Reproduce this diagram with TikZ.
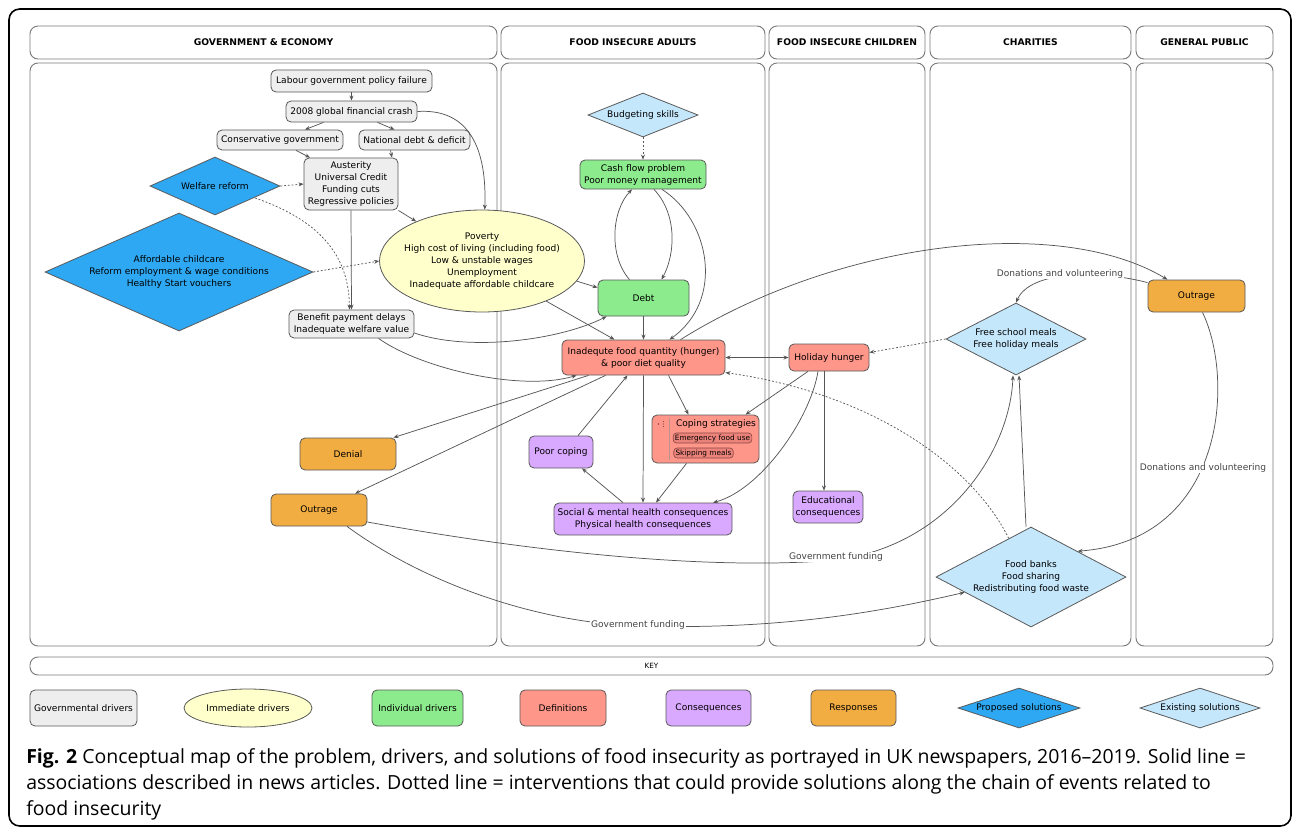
\documentclass[tikz,border=0pt]{standalone}
\usepackage{fontspec}
\setmainfont{DejaVu Sans}
\newfontfamily\capfont{Open Sans}
\usetikzlibrary{shapes.geometric,arrows.meta,calc}
\definecolor{bordc}{HTML}{5A5A5A}
\definecolor{panelc}{HTML}{7A7A7A}
\definecolor{edgec}{HTML}{555555}
\definecolor{labc}{HTML}{444444}
\definecolor{govc}{HTML}{EEEEEE}
\definecolor{immc}{HTML}{FFFFCC}
\definecolor{indc}{HTML}{8CEB8C}
\definecolor{defc}{HTML}{FF968A}
\definecolor{csqc}{HTML}{D9A8FF}
\definecolor{respc}{HTML}{F2AD42}
\definecolor{propc}{HTML}{2EA8F2}
\definecolor{exic}{HTML}{C5E7FC}
\definecolor{pillc}{HTML}{EC837A}
\definecolor{pillb}{HTML}{8B4A45}
\begin{document}
\begin{tikzpicture}[x=0.75pt,y=-0.75pt,
  every node/.style={font=\fontsize{6.8}{9}\selectfont},
  sz/.style 2 args={minimum width={#1*0.75pt}, minimum height={#2*0.75pt}},
  box/.style={draw=bordc, line width=0.6pt, rounded corners=3.8pt, align=center, inner sep=1pt},
  gov/.style={box, fill=govc},
  ind/.style={box, fill=indc},
  defn/.style={box, fill=defc},
  csq/.style={box, fill=csqc},
  resp/.style={box, fill=respc},
  imm/.style={ellipse, draw=bordc, line width=0.6pt, fill=immc, align=center, inner sep=0pt},
  prop/.style={diamond, draw=bordc, line width=0.6pt, fill=propc, align=center, inner sep=0pt},
  exist/.style={diamond, draw=bordc, line width=0.6pt, fill=exic, align=center, inner sep=0pt},
  panel/.style={draw=panelc, line width=0.7pt, rounded corners=6pt, inner sep=0pt},
  hdr/.style={panel, font=\fontsize{6.9}{9}\selectfont\bfseries},
  pill/.style={draw=pillb, fill=pillc, line width=0.5pt, rounded corners=2.5pt, inner xsep=1.3pt, inner ysep=1.1pt, font=\fontsize{5.5}{6}\selectfont},
  arr/.style={draw=edgec, line width=0.55pt, -{Stealth[length=3.8pt,width=3pt]}},
  arrboth/.style={draw=edgec, line width=0.55pt, {Stealth[length=3.8pt,width=3pt]}-{Stealth[length=3.8pt,width=3pt]}},
  dot/.style={arr, dash pattern=on 1.4pt off 1.4pt},
  lbl/.style={fill=white, inner sep=0.8pt, text=labc},
  captxt/.style={anchor=base west, inner sep=0pt, font=\capfont\fontsize{14.6}{15}\selectfont}
]
\fill[white] (0,0) rectangle (1292,829);
\useasboundingbox (0,0) rectangle (1292,829);
\draw[line width=1.2pt, rounded corners=8pt] (9,9) rectangle (1291,826);

% headers
\node[hdr, sz={467}{33}] (hGov) at (263.5,42.5) {GOVERNMENT \& ECONOMY};
\node[hdr, sz={264}{33}] (hAd) at (633,42.5) {FOOD INSECURE ADULTS};
\node[hdr, sz={156}{33}] (hCh) at (847,42.5) {FOOD INSECURE CHILDREN};
\node[hdr, sz={201}{33}] (hCy) at (1030.5,42.5) {CHARITIES};
\node[hdr, sz={137}{33}] (hPu) at (1204.5,42.5) {GENERAL PUBLIC};
% panels
\node[panel, sz={467}{583}] (pGov) at (263.5,354.5) {};
\node[panel, sz={264}{583}] (pAd) at (633,354.5) {};
\node[panel, sz={156}{583}] (pCh) at (847,354.5) {};
\node[panel, sz={201}{583}] (pCy) at (1030.5,354.5) {};
\node[panel, sz={137}{583}] (pPu) at (1204.5,354.5) {};
\node[panel, sz={1243}{18}, font=\fontsize{5.4}{6}\selectfont] (keybar) at (651.5,666) {KEY};

% key
\node[gov, sz={107}{36}] (k1) at (83.5,708) {Governmental drivers};
\node[imm, sz={128}{38}] (k2) at (248,708) {Immediate drivers};
\node[ind, sz={91}{36}] (k3) at (417.5,708) {Individual drivers};
\node[defn, sz={86}{36}] (k4) at (563,708) {Definitions};
\node[csq, sz={85}{36}] (k5) at (708.5,708) {Consequences};
\node[resp, sz={85}{36}] (k6) at (853.5,708) {Responses};
\node[prop, sz={122}{40}, shape aspect=3] (k7) at (1019,708) {Proposed solutions};
\node[exist, sz={120}{40}, shape aspect=3] (k8) at (1200,708) {Existing solutions};

% government nodes
\node[gov, sz={161}{22}] (lab) at (351.5,81) {Labour government policy failure};
\node[gov, sz={131}{21}] (crash) at (351.5,111.5) {2008 global financial crash};
\node[gov, sz={126}{20}] (cons) at (280,140) {Conservative government};
\node[gov, sz={111}{20}] (natdebt) at (414.5,140) {National debt \& deficit};
\node[gov, sz={94}{52}] (aust) at (351,184) {Austerity\\Universal Credit\\Funding cuts\\Regressive policies};
\node[prop, sz={130}{58}, shape aspect=2.24] (welfare) at (215,186) {Welfare reform};
\node[prop, sz={268}{118}, shape aspect=2.27] (afford) at (179,272) {Affordable childcare\\Reform employment \& wage conditions\\Healthy Start vouchers};
\node[gov, sz={125}{28}] (benefit) at (351.5,324) {Benefit payment delays\\Inadequate welfare value};
\node[imm, sz={205}{102}] (pov) at (482,261) {};
\node[align=center] (povtxt) at (482,261) {Poverty\\High cost of living (including food)\\Low \& unstable wages\\Unemployment\\Inadequate affordable childcare};
\node[resp, sz={96}{32}] (denial) at (348,454) {Denial};
\node[resp, sz={96}{32}] (outr1) at (319,510) {Outrage};

% adults
\node[exist, sz={110}{44}, shape aspect=2.5] (budget) at (643,115) {Budgeting skills};
\node[ind, sz={126}{29}] (cash) at (643,174.5) {Cash flow problem\\Poor money management};
\node[ind, sz={91}{36}] (debt) at (643.5,298) {Debt};
\node[defn, sz={163}{35}] (inadeq) at (643.5,357.5) {Inadequte food quantity (hunger)\\\& poor diet quality};
\node[csq, sz={64}{32}] (poorcop) at (561,452) {Poor coping};
\node[defn, sz={107}{48}] (coping) at (705.5,439) {};
\node[inner sep=0pt] (copT) at (716,424) {Coping strategies};
\node[pill] (pill1) at (712.5,438) {Emergency food use};
\node[pill] (pill2) at (703.5,453) {Skipping meals};
\draw[draw=pillb!60, line width=0.4pt] (669,418) -- (669,460);
\fill[pillb] (658.5,424) circle (0.9);
\fill[pillb] (663.5,421.5) circle (0.6) (663.5,424) circle (0.6) (663.5,426.5) circle (0.6);
\node[csq, sz={178}{32}] (social) at (643,519) {Social \& mental health consequences\\Physical health consequences};

% children
\node[defn, sz={80}{27}] (holiday) at (829,357.5) {Holiday hunger};
\node[csq, sz={70}{32}] (edu) at (828,507) {Educational\\consequences};

% charities
\node[exist, sz={140}{72}, shape aspect=1.94] (fsm) at (1016,339) {Free school meals\\Free holiday meals};
\node[exist, sz={190}{100}, shape aspect=1.9] (fb) at (1031,577) {Food banks\\Food sharing\\Redistributing food waste};

% public
\node[resp, sz={97}{32}] (outr2) at (1196.5,296) {Outrage};

\coordinate (gf1) at (836,560);
\coordinate (gf2) at (638,626);

% connectors
\draw[arr] (lab) -- (crash);
\draw[arr] ($(crash.south)+(-28,0)$) -- ($(cons.north)+(25,0)$);
\draw[arr] ($(crash.south)+(26,0)$) -- ($(natdebt.north)+(-20,0)$);
\draw[arr] ($(cons.south)+(16,0)$) -- ($(aust.north)+(-41,0)$);
\draw[arr] ($(natdebt.south)+(-24,0)$) -- ($(aust.north)+(41,0)$);
\draw[dot] (welfare.east) -- (aust.west);
\draw[dot] ($(welfare.center)+(40,12)$) .. controls (325,222) and (349,260) .. ($(benefit.north)+(-2,0)$);
\draw[arr] (aust.south) -- (benefit.north);
\draw[arr] (aust.south east) -- (pov.149);
\draw[arr] (crash.east) .. controls (470,108) and (487,150) .. (pov.87);
\draw[dot] (afford.east) -- (pov.west);
\draw[arr] (pov.-12) -- ($(debt.north west)+(0,8)$);
\draw[arr] (pov.-32) -- ($(inadeq.north)+(-29,0)$);
\draw[arr] ($(benefit.east)+(0,9)$) .. controls (470,352) and (560,340) .. ($(debt.south west)+(9,0)$);
\draw[arr] ($(benefit.south)+(27,0)$) .. controls (420,368) and (520,392) .. ($(inadeq.south west)+(15,0)$);
\draw[arr] ($(debt.north)+(-14,0)$) .. controls (608,255) and (612,210) .. ($(cash.south)+(-11,0)$);
\draw[arr] ($(cash.south)+(11,0)$) .. controls (678,215) and (675,255) .. ($(debt.north)+(18,0)$);
\draw[arr] ($(cash.south)+(19,0)$) .. controls (710,220) and (725,300) .. ($(inadeq.north)+(26,0)$);
\draw[arr] (debt) -- (inadeq);
\draw[dot] (budget) -- (cash);
\draw[arr] ($(inadeq.north)+(37,0)$) .. controls (840,240) and (1060,215) .. ($(outr2.north)+(-29,0)$);
\draw[arr] ($(outr2.north west)+(0,3)$) .. controls (1100,270) and (1030,270) .. (fsm.north);
\node[lbl] (dv1) at (1060,274) {Donations and volunteering};
\draw[arr] ($(outr2.south)+(6,0)$) .. controls (1235,380) and (1225,540) .. (fb.29);
\node[lbl] (dv2) at (1203,468) {Donations and volunteering};
\draw[arrboth] (inadeq) -- (holiday);
\draw[dot] (fsm.west) -- ($(holiday.east)+(0,-5)$);
\draw[arr] ($(holiday.south)+(-21,0)$) -- ($(coping.north)+(40,0)$);
\draw[arr] ($(holiday.south)+(-11,0)$) .. controls (810,420) and (760,490) .. ($(social.north)+(70,0)$);
\draw[arr] ($(holiday.south)+(-5,0)$) -- ($(edu.north)+(-4,0)$);
\draw[dot] (fb.120) .. controls (975,470) and (880,395) .. ($(inadeq.east)+(0,15)$);
\draw[arr] ($(inadeq.south)+(-55,0)$) -- ($(denial.north east)+(-3,0)$);
\draw[arr] ($(inadeq.south)+(-38,0)$) -- ($(outr1.north)+(36,0)$);
\draw[arr] ($(inadeq.south)+(25,0)$) -- ($(coping.north)+(-17,0)$);
\draw[arr] (inadeq.south) -- (social.north);
\draw[arr] ($(poorcop.north)+(17,0)$) -- ($(inadeq.south)+(-16,0)$);
\draw[arr] ($(social.north)+(-20,0)$) -- ($(poorcop.south)+(21,0)$);
\draw[arr] ($(coping.south)+(-19,0)$) -- ($(social.north)+(13,0)$);
\draw[arr] ($(outr1.east)+(0,12)$) .. controls (550,555) and (720,570) .. (gf1) .. controls (950,545) and (1010,450) .. ($(fsm.south)+(-3,0)$);
\node[lbl] (gft1) at (836,557) {Government funding};
\draw[arr] ($(outr1.south)+(28,0)$) .. controls (420,580) and (530,622) .. (gf2) .. controls (780,630) and (880,612) .. (fb.193);
\node[lbl] (gft2) at (638,625) {Government funding};
\draw[arr] ($(fb.north)+(-5,0)$) -- ($(fsm.south)+(3,0)$);

% caption
\node[captxt] (cap1) at (26,763) {\textbf{Fig. 2} Conceptual map of the problem, drivers, and solutions of food insecurity as portrayed in UK newspapers, 2016–2019. Solid line =};
\node[captxt] (cap2) at (26,789) {associations described in news articles. Dotted line = interventions that could provide solutions along the chain of events related to};
\node[captxt] (cap3) at (26,815) {food insecurity};
\end{tikzpicture}
\end{document}
